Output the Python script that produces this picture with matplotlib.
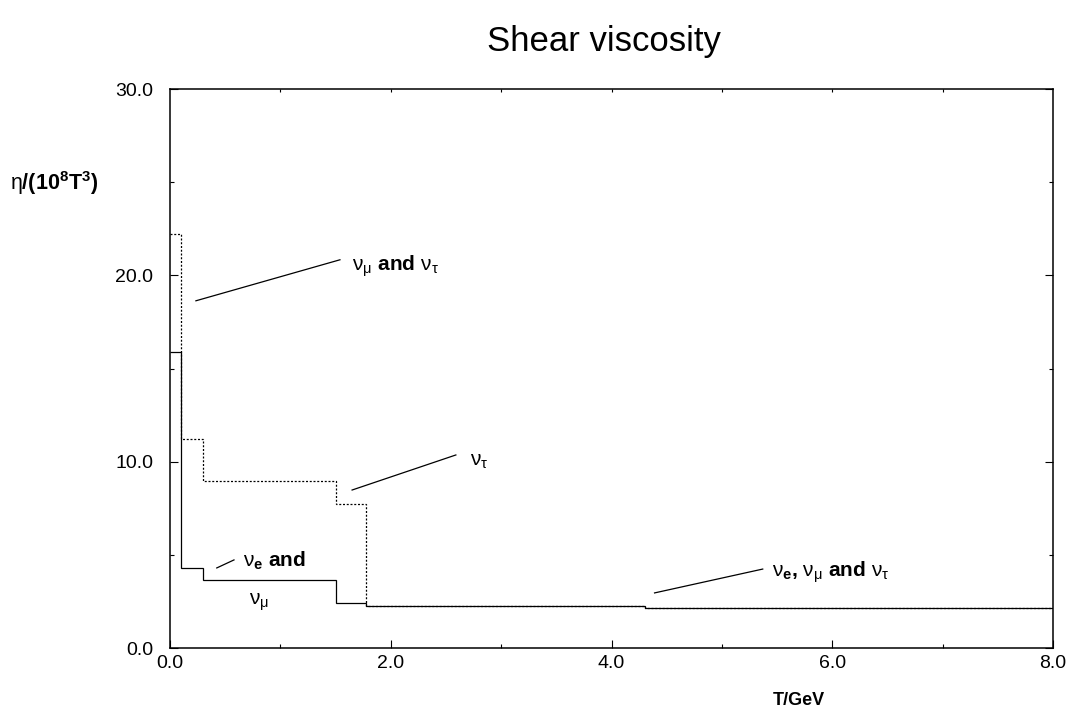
import numpy as np
import matplotlib.pyplot as plt

plt.rcParams['font.family'] = ['Liberation Sans', 'DejaVu Sans']
plt.rcParams['mathtext.fontset'] = 'custom'
plt.rcParams['mathtext.rm'] = 'Liberation Sans'
plt.rcParams['mathtext.it'] = 'Liberation Sans:italic'
plt.rcParams['mathtext.bf'] = 'Liberation Sans:bold'

# ----- Datos -----
# bordes de los escalones en T/GeV
bordesT = [0.0, 0.1, 0.3, 1.5, 1.777, 4.3, 8.0]
# nu_e y nu_mu (linea continua)
etaNuEMu = [15.9, 4.3, 3.65, 2.45, 2.25, 2.15]
# nu_tau (linea punteada)
etaNuTau = [22.2, 11.2, 8.95, 7.75, 2.25, 2.15]

# etiquetas: texto, posicion del texto, inicio y fin de la linea guia
etiquetas = [r"$\mathrm{\nu}_\mathrm{\mu}$ and $\mathrm{\nu}_\mathrm{\tau}$",
             r"$\mathrm{\nu}_\mathrm{\tau}$",
             r"$\mathrm{\nu}_\mathbf{e}$ and",
             r"$\mathrm{\nu}_\mathbf{e}$, $\mathrm{\nu}_\mathrm{\mu}$ and $\mathrm{\nu}_\mathrm{\tau}$"]
posTexto = [(1.65, 20.5), (2.72, 10.0), (0.66, 4.7), (5.45, 4.1)]
lineaDesde = [(0.235, 18.64), (1.65, 8.49), (0.424, 4.31), (4.39, 2.97)]
lineaHasta = [(1.54, 20.84), (2.59, 10.37), (0.58, 4.74), (5.37, 4.25)]
textoExtra = r"$\mathrm{\nu}_\mathrm{\mu}$"
posExtra = (0.72, 2.45)

yTicks = [0.0, 10.0, 20.0, 30.0]
xTicks = [0.0, 2.0, 4.0, 6.0, 8.0]

# ----- Figura -----
fig = plt.figure(figsize=(10.73, 7.15), dpi=100)
ax = fig.add_axes([0.1584, 0.0933, 0.823, 0.7822])

ax.stairs(etaNuTau, bordesT, baseline=None, color='black',
          linewidth=0.9, linestyle=(0, (1.6, 1.4)))
ax.stairs(etaNuEMu, bordesT, baseline=None, color='black', linewidth=0.9)

for texto, pt, p0, p1 in zip(etiquetas, posTexto, lineaDesde, lineaHasta):
    ax.plot([p0[0], p1[0]], [p0[1], p1[1]], color='black', linewidth=0.9)
    ax.text(pt[0], pt[1], texto, fontsize=15, fontweight='bold',
            ha='left', va='center')
ax.text(posExtra[0], posExtra[1], textoExtra, fontsize=15,
        ha='left', va='center')

ax.set_xlim(0, 8)
ax.set_ylim(0, 30)
ax.set_xticks(xTicks)
ax.set_xticklabels(['%.1f' % v for v in xTicks])
ax.set_yticks(yTicks)
ax.set_yticklabels(['%.1f' % v for v in yTicks])
ax.set_xticks(np.arange(1.0, 8.0, 2.0), minor=True)
ax.set_yticks([5.0, 15.0, 25.0], minor=True)

ax.tick_params(which='both', direction='in', top=False, right=True,
               labelsize=14)
ax.tick_params(which='major', length=6, width=0.8)
ax.tick_params(which='minor', length=3, width=0.8)
ax.tick_params(axis='y', pad=12)
ax.tick_params(axis='x', pad=5)

# marcas cortas arriba
arriba = ax.secondary_xaxis('top')
arriba.set_xticks(np.arange(1.0, 8.0, 1.0))
arriba.tick_params(direction='in', length=2.5, width=0.8, labeltop=False)
arriba.spines['top'].set_visible(False)

for s in ax.spines.values():
    s.set_linewidth(1.1)

fig.text(0.563, 1 - 42 / 715, "Shear viscosity", ha='center', va='center',
         fontsize=25)
fig.text(0.009, 1 - 183 / 715, r"$\mathrm{\eta}$/(10$^\mathbf{8}$T$^\mathbf{3}$)",
         ha='left', va='center', fontsize=15.5, fontweight='bold')
ax.text(5.7, -0.093, "T/GeV", transform=ax.get_xaxis_transform(),
        ha='center', va='center', fontsize=13, fontweight='bold')

fig.savefig('out.png', dpi=100)
